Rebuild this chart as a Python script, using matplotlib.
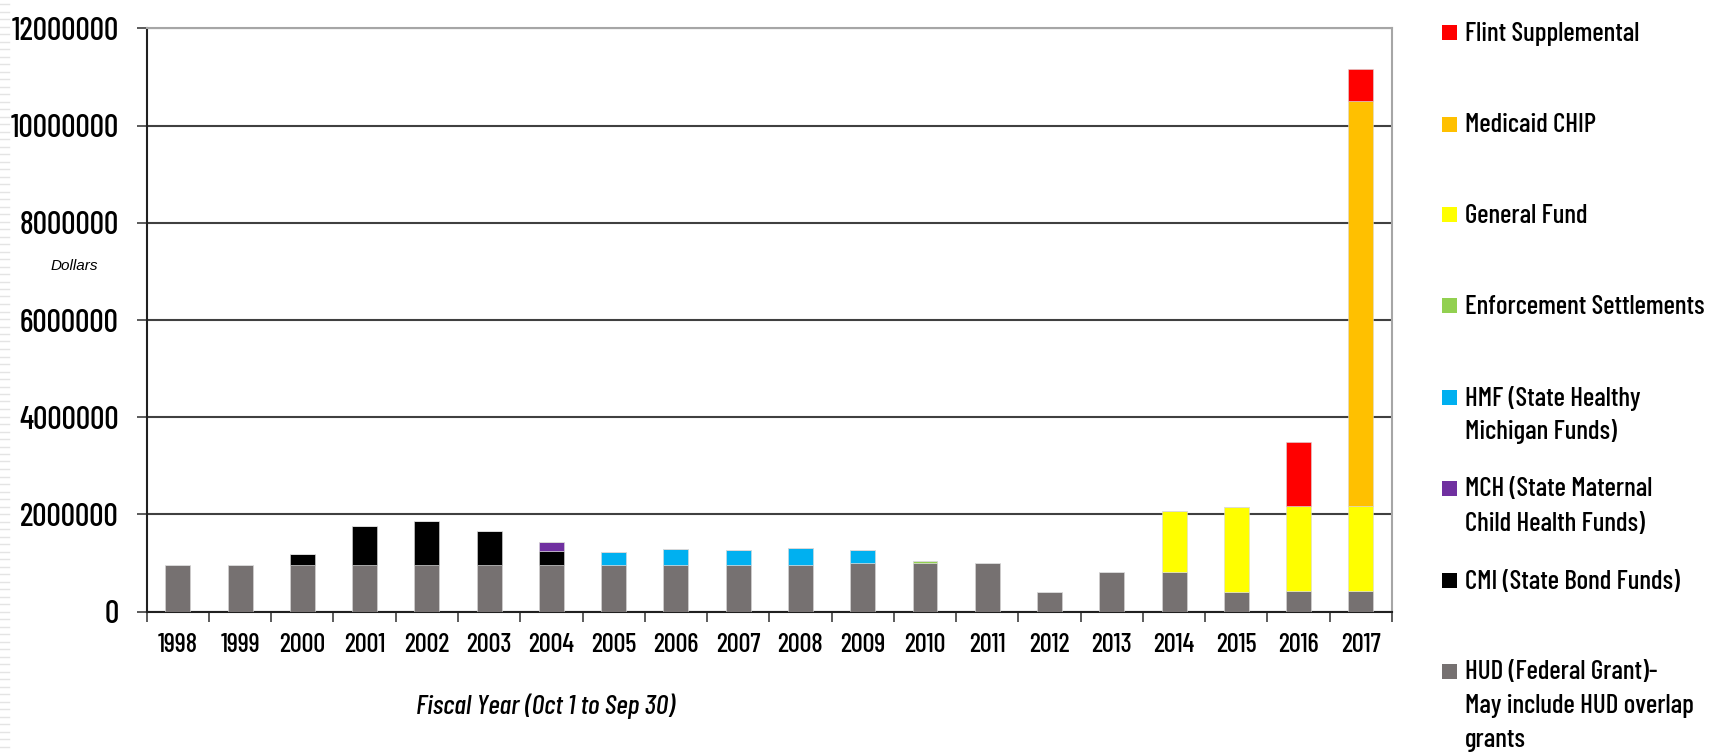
import matplotlib
matplotlib.use("Agg")
import matplotlib.pyplot as plt
import numpy as np
from matplotlib.patches import Rectangle
from matplotlib import font_manager

_avail = {f.name for f in font_manager.fontManager.ttflist}


def pick(*cands):
    for c in cands:
        if c in _avail:
            return c
    return "DejaVu Sans"


MAIN = pick("Tw Cen MT Condensed", "Barlow Condensed", "Pathway Gothic One", "Antonio",
            "Roboto Condensed", "Open Sans Condensed", "PT Sans Narrow", "DejaVu Sans")
ITAL = pick("Barlow Condensed", "Roboto Condensed", "Archivo Narrow", "PT Sans Narrow", "DejaVu Sans")
plt.rcParams['font.family'] = [MAIN, 'DejaVu Sans']
plt.rcParams['font.weight'] = 500

years = ["1998", "1999", "2000", "2001", "2002", "2003", "2004", "2005", "2006", "2007",
         "2008", "2009", "2010", "2011", "2012", "2013", "2014", "2015", "2016", "2017"]

hud   = [970000, 970000, 970000, 970000, 970000, 970000, 970000, 970000, 970000, 970000,
         970000, 1000000, 1000000, 1000000, 405000, 817000, 817000, 405000, 425000, 425000]
cmi   = [0, 0, 210000, 800000, 890000, 680000, 280000, 0, 0, 0,
         0, 0, 0, 0, 0, 0, 0, 0, 0, 0]
mch   = [0, 0, 0, 0, 0, 0, 190000, 0, 0, 0,
         0, 0, 0, 0, 0, 0, 0, 0, 0, 0]
hmf   = [0, 0, 0, 0, 0, 0, 0, 250000, 310000, 290000,
         330000, 260000, 0, 0, 0, 0, 0, 0, 0, 0]
enf   = [0, 0, 0, 0, 0, 0, 0, 0, 0, 0,
         0, 0, 50000, 0, 0, 0, 0, 0, 0, 0]
gf    = [0, 0, 0, 0, 0, 0, 0, 0, 0, 0,
         0, 0, 0, 0, 0, 0, 1250000, 1740000, 1750000, 1750000]
chip  = [0, 0, 0, 0, 0, 0, 0, 0, 0, 0,
         0, 0, 0, 0, 0, 0, 0, 0, 0, 8330000]
flint = [0, 0, 0, 0, 0, 0, 0, 0, 0, 0,
         0, 0, 0, 0, 0, 0, 0, 0, 1320000, 650000]

# stacking order bottom -> top
series = [hud, cmi, mch, hmf, enf, gf, chip, flint]
colors = ["#767171", "#000000", "#7030A0", "#00B0F0", "#92D050", "#FFFF00", "#FFC000", "#FF0000"]

legend_labels = [["Flint Supplemental"], ["Medicaid CHIP"], ["General Fund"], ["Enforcement Settlements"],
                 ["HMF (State Healthy", "Michigan Funds)"], ["MCH (State Maternal", "Child Health Funds)"],
                 ["CMI (State Bond Funds)"], ["HUD (Federal Grant)-", "May include HUD overlap", "grants"]]
legend_colors = ["#FF0000", "#FFC000", "#FFFF00", "#92D050", "#00B0F0", "#7030A0", "#000000", "#767171"]

yticks = [0, 2000000, 4000000, 6000000, 8000000, 10000000, 12000000]
ytick_labels = ["0", "2000000", "4000000", "6000000", "8000000", "10000000", "12000000"]

W, H = 1711, 754
fig = plt.figure(figsize=(W / 100, H / 100), dpi=100)
L, R, T, B = 146.7, 1392, 28.3, 611.7
ax = fig.add_axes([L / W, 1 - B / H, (R - L) / W, (B - T) / H])

x = np.arange(len(years))
bottom = np.zeros(len(years))
for vals, c in zip(series, colors):
    v = np.array(vals, dtype=float)
    ax.bar(x, v, width=0.4, bottom=bottom, color=c, edgecolor="#d9d9d9", linewidth=0.4, zorder=3)
    bottom += v

ax.set_xlim(-0.5, len(years) - 0.5)
ax.set_ylim(0, 12000000)
ax.set_axisbelow(True)

ax.set_yticks(yticks)
ax.set_yticklabels(ytick_labels, fontsize=23)
ax.yaxis.grid(True, color="#404040", linewidth=1.5)
ax.tick_params(axis="y", length=7.2, width=1.2, color="#404040", pad=13)

ax.set_xticks(np.arange(len(years) + 1) - 0.5)
ax.set_xticklabels([])
ax.set_xticks(x, minor=True)
ax.set_xticklabels(years, minor=True, fontsize=19)
ax.tick_params(axis="x", which="major", length=7, width=1.2, color="#404040")
ax.tick_params(axis="x", which="minor", length=0, pad=15)

for s in ["left", "bottom"]:
    ax.spines[s].set_color("#202020")
    ax.spines[s].set_linewidth(1.5)
for s in ["top", "right"]:
    ax.spines[s].set_color("#a6a6a6")
    ax.spines[s].set_linewidth(1.5)

fig.text(545 / W, 1 - 706 / H, "Fiscal Year (Oct 1 to Sep 30)", fontsize=20, style="italic",
         ha="center", va="center", family=[ITAL, "DejaVu Sans"])
fig.text(74 / W, 1 - 266 / H, "Dollars", fontsize=11, style="italic", ha="center", va="center",
         family=["Liberation Sans", "DejaVu Sans"], weight="normal")

# legend (manual)
swatch_y = [32.5, 124, 214.5, 306, 397, 488, 580, 671]
for lines, c, yy in zip(legend_labels, legend_colors, swatch_y):
    fig.patches.append(Rectangle((1442 / W, 1 - (yy + 7.5) / H), 15 / W, 15 / H,
                                 transform=fig.transFigure, facecolor=c, edgecolor="none"))
    for k, line in enumerate(lines):
        fig.text(1465 / W, 1 - (yy + 8.5 + 34 * k) / H, line, fontsize=19.5, ha="left", va="baseline")

# faint striped left border
for yy in np.arange(4, H, 7.5):
    fig.add_artist(plt.Line2D([0, 9 / W], [1 - yy / H, 1 - yy / H], transform=fig.transFigure,
                              color="#e4e4e4", linewidth=1))

fig.savefig("out.png", dpi=100)
